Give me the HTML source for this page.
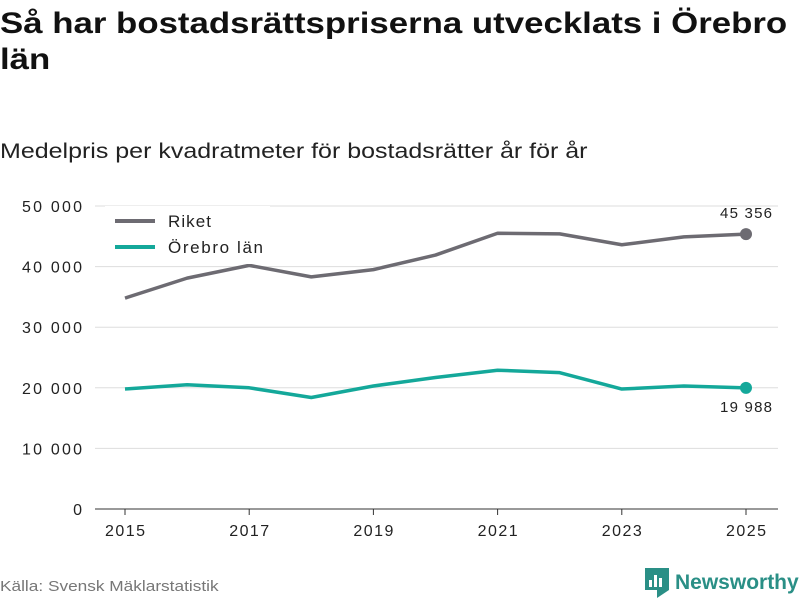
<!DOCTYPE html>
<html><head><meta charset="utf-8">
<style>
body{margin:0;width:800px;height:600px;background:#fff;font-family:"Liberation Sans",sans-serif;overflow:hidden;position:relative;color:#111}
#title{position:absolute;left:0;top:6px;font-size:30px;font-weight:bold;line-height:36px;white-space:nowrap;transform:scaleX(1.16);transform-origin:0 0}
#subtitle{position:absolute;left:0;top:140px;font-size:21px;color:#222;white-space:nowrap;transform:scaleX(1.19);transform-origin:0 0}
#source{position:absolute;left:0;top:578px;font-size:15px;color:#777;transform:scaleX(1.15);transform-origin:0 0;white-space:nowrap}
#logo{position:absolute;left:645px;top:568px;display:flex;align-items:center;gap:6px;font-size:21px;font-weight:bold;color:#2a8f86}
svg text{font-family:"Liberation Sans",sans-serif}
</style></head><body>
<div id="title">Så har bostadsrättspriserna utvecklats i Örebro<br>län</div>
<div id="subtitle">Medelpris per kvadratmeter för bostadsrätter år för år</div>
<svg id="chart" width="800" height="600" style="position:absolute;left:0;top:0"></svg>
<div id="source">Källa: Svensk Mäklarstatistik</div>
<div id="logo">
<svg width="24" height="30" viewBox="0 0 24 30"><path d="M0 0H24V22L12 30L12 22H0Z" fill="#2a8f86"/><rect x="4" y="12" width="3" height="7" fill="#fff"/><rect x="9" y="7" width="3" height="12" fill="#fff"/><rect x="14" y="10" width="3" height="9" fill="#fff"/></svg>
<span>Newsworthy</span></div>
<script>
const years=[2015,2016,2017,2018,2019,2020,2021,2022,2023,2024,2025];
const riket=[34800,38100,40200,38300,39500,41900,45500,45400,43600,44900,45356];
const orebro=[19800,20500,20000,18400,20300,21700,22900,22500,19800,20300,19988];
const yTicks=[0,10000,20000,30000,40000,50000];
const xTicks=[2015,2017,2019,2021,2023,2025];
const svg=document.getElementById('chart');
const NS='http://www.w3.org/2000/svg';
const x=v=>125+(v-2015)*62.1;
const y=v=>509-v*303/50000;
const fmt=v=>String(v).replace(/\B(?=(\d{3})+(?!\d))/g,' ');
function mk(t,a,p){const e=document.createElementNS(NS,t);for(const k in a)e.setAttribute(k,a[k]);(p||svg).appendChild(e);return e;}
yTicks.forEach(v=>{
 const l=mk('line',{x1:95,x2:778,y1:y(v),y2:y(v),stroke:v===0?'#333':'#ddd','stroke-width':1});
 
 
 const t=mk('text',{x:82,y:y(v)+6,'text-anchor':'end','font-size':16,fill:'#222','textLength':v===0?10:60});t.textContent=fmt(v);
 
 
});
xTicks.forEach(v=>{
 const l=mk('line',{x1:x(v),x2:x(v),y1:509,y2:515,stroke:'#333'});
 
 
 const t=mk('text',{x:x(v),y:536,'text-anchor':'middle','font-size':16,fill:'#222','textLength':40});t.textContent=v;
 
 
});
function series(vals,color,name){
 const p=mk('polyline',{points:vals.map((v,i)=>x(years[i])+','+y(v)).join(' '),fill:'none',stroke:color,'stroke-width':3.5,'stroke-linejoin':'round'});
 
 
 const last=vals.length-1;
 const c=mk('circle',{cx:x(years[last]),cy:y(vals[last]),r:6,fill:color});
 
 
}
series(riket,'#6d6b72','riket');
series(orebro,'#14a89a','orebro');
const l1=mk('text',{x:746,y:218,'text-anchor':'middle','font-size':15,fill:'#222','textLength':52});l1.textContent=fmt(riket[riket.length-1]);


const l2=mk('text',{x:746,y:412,'text-anchor':'middle','font-size':15,fill:'#222','textLength':52});l2.textContent=fmt(orebro[orebro.length-1]);


const bg=mk('rect',{x:105,y:206,width:165,height:58,fill:'#fff'});


[['Riket','#6d6b72',221,43],['Örebro län','#14a89a',247,95]].forEach(([n,c,yy,w])=>{
 const l=mk('line',{x1:115,x2:155,y1:yy,y2:yy,stroke:c,'stroke-width':4});
 
 
 const t=mk('text',{x:168,y:yy+6,'font-size':17,fill:'#222','textLength':w});t.textContent=n;
 
 
});
</script>
</body></html>
